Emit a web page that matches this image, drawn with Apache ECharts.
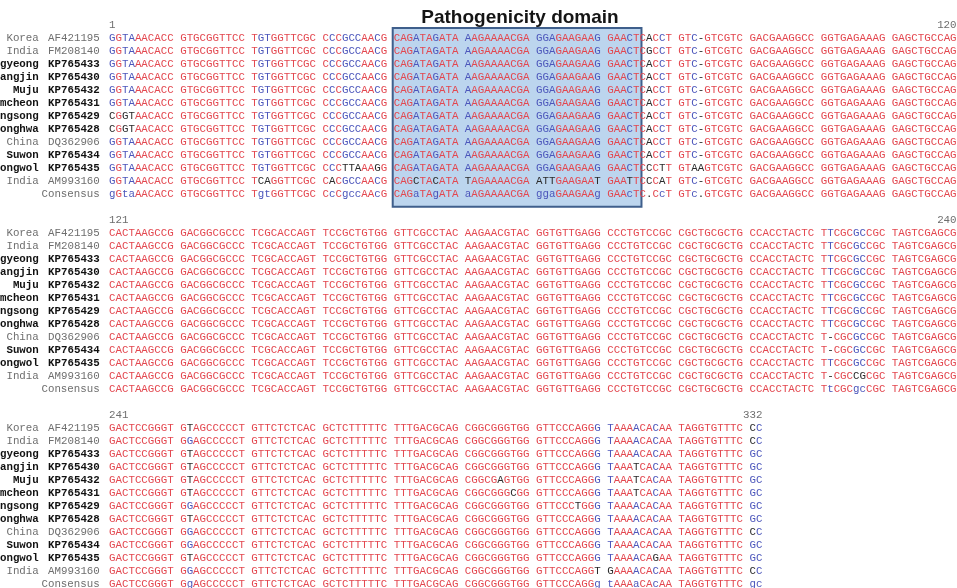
<!DOCTYPE html>
<html><head><meta charset="utf-8">
<script src="https://cdn.jsdelivr.net/npm/echarts@6/dist/echarts.min.js"></script>
<style>html,body{margin:0;padding:0;background:#fff}#c{width:957px;height:588px}</style>
</head><body><div id="c"></div>
<script>
// ---------------- DATA ----------------
const regionNames = ["Korea","India","gyeong","angjin","Muju","mcheon","ngsong","onghwa","China","Suwon","ongwol","India",""];
const accessions  = ["AF421195","FM208140","KP765433","KP765430","KP765432","KP765431","KP765429","KP765428","DQ362906","KP765434","KP765435","AM993160","Consensus"];
const blockStart = [1, 121, 241];
const blockEnd   = [120, 240, 332];
const domainStart = 41, domainEnd = 75;
const domainTitle = "Pathogenicity domain";

const block1 = [
"GGTAAACACC GTGCGGTTCC TGTGGTTCGC CCCGCCAACG CAGATAGATA AAGAAAACGA GGAGAAGAAG GAACTCACCT GTC-GTCGTC GACGAAGGCC GGTGAGAAAG GAGCTGCCAG",
"GGTAAACACC GTGCGGTTCC TGTGGTTCGC CCCGCCAACG CAGATAGATA AAGAAAACGA GGAGAAGAAG GAACTCGCCT GTC-GTCGTC GACGAAGGCC GGTGAGAAAG GAGCTGCCAG",
"GGTAAACACC GTGCGGTTCC TGTGGTTCGC CCCGCCAACG CAGATAGATA AAGAAAACGA GGAGAAGAAG GAACTCACCT GTC-GTCGTC GACGAAGGCC GGTGAGAAAG GAGCTGCCAG",
"GGTAAACACC GTGCGGTTCC TGTGGTTCGC CCCGCCAACG CAGATAGATA AAGAAAACGA GGAGAAGAAG GAACTCACCT GTC-GTCGTC GACGAAGGCC GGTGAGAAAG GAGCTGCCAG",
"GGTAAACACC GTGCGGTTCC TGTGGTTCGC CCCGCCAACG CAGATAGATA AAGAAAACGA GGAGAAGAAG GAACTCACCT GTC-GTCGTC GACGAAGGCC GGTGAGAAAG GAGCTGCCAG",
"GGTAAACACC GTGCGGTTCC TGTGGTTCGC CCCGCCAACG CAGATAGATA AAGAAAACGA GGAGAAGAAG GAACTCACCT GTC-GTCGTC GACGAAGGCC GGTGAGAAAG GAGCTGCCAG",
"CGGTAACACC GTGCGGTTCC TGTGGTTCGC CCCGCCAACG CAGATAGATA AAGAAAACGA GGAGAAGAAG GAACTCACCT GTC-GTCGTC GACGAAGGCC GGTGAGAAAG GAGCTGCCAG",
"CGGTAACACC GTGCGGTTCC TGTGGTTCGC CCCGCCAACG CAGATAGATA AAGAAAACGA GGAGAAGAAG GAACTCACCT GTC-GTCGTC GACGAAGGCC GGTGAGAAAG GAGCTGCCAG",
"GGTAAACACC GTGCGGTTCC TGTGGTTCGC CCCGCCAACG CAGATAGATA AAGAAAACGA GGAGAAGAAG GAACTCACCT GTC-GTCGTC GACGAAGGCC GGTGAGAAAG GAGCTGCCAG",
"GGTAAACACC GTGCGGTTCC TGTGGTTCGC CCCGCCAACG CAGATAGATA AAGAAAACGA GGAGAAGAAG GAACTCACCT GTC-GTCGTC GACGAAGGCC GGTGAGAAAG GAGCTGCCAG",
"GGTAAACACC GTGCGGTTCC TGTGGTTCGC CCCTTAAAGG CAGATAGATA AAGAAAACGA GGAGAAGAAG GAACTCCCTT GTAAGTCGTC GACGAAGGCC GGTGAGAAAG GAGCTGCCAG",
"GGTAAACACC GTGCGGTTCC TCAGGTTCGC CACGCCAACG CAGCTACATA TAGAAAACGA ATTGAAGAAT GAATTCCCAT GTC-GTCGTC GACGAAGGCC GGTGAGAAAG GAGCTGCCAG",
"gGtaAACACC GTGCGGTTCC TgtGGTTCGC CcCgccAAcG CAGaTAgATA aAGAAAACGA ggaGAAGAAg GAAcTC.CcT GTc.GTCGTC GACGAAGGCC GGTGAGAAAG GAGCTGCCAG"
];
const block2 = [
"CACTAAGCCG GACGGCGCCC TCGCACCAGT TCCGCTGTGG GTTCGCCTAC AAGAACGTAC GGTGTTGAGG CCCTGTCCGC CGCTGCGCTG CCACCTACTC TTCGCGCCGC TAGTCGAGCG",
"CACTAAGCCG GACGGCGCCC TCGCACCAGT TCCGCTGTGG GTTCGCCTAC AAGAACGTAC GGTGTTGAGG CCCTGTCCGC CGCTGCGCTG CCACCTACTC TTCGCGCCGC TAGTCGAGCG",
"CACTAAGCCG GACGGCGCCC TCGCACCAGT TCCGCTGTGG GTTCGCCTAC AAGAACGTAC GGTGTTGAGG CCCTGTCCGC CGCTGCGCTG CCACCTACTC TTCGCGCCGC TAGTCGAGCG",
"CACTAAGCCG GACGGCGCCC TCGCACCAGT TCCGCTGTGG GTTCGCCTAC AAGAACGTAC GGTGTTGAGG CCCTGTCCGC CGCTGCGCTG CCACCTACTC TTCGCGCCGC TAGTCGAGCG",
"CACTAAGCCG GACGGCGCCC TCGCACCAGT TCCGCTGTGG GTTCGCCTAC AAGAACGTAC GGTGTTGAGG CCCTGTCCGC CGCTGCGCTG CCACCTACTC TTCGCGCCGC TAGTCGAGCG",
"CACTAAGCCG GACGGCGCCC TCGCACCAGT TCCGCTGTGG GTTCGCCTAC AAGAACGTAC GGTGTTGAGG CCCTGTCCGC CGCTGCGCTG CCACCTACTC TTCGCGCCGC TAGTCGAGCG",
"CACTAAGCCG GACGGCGCCC TCGCACCAGT TCCGCTGTGG GTTCGCCTAC AAGAACGTAC GGTGTTGAGG CCCTGTCCGC CGCTGCGCTG CCACCTACTC TTCGCGCCGC TAGTCGAGCG",
"CACTAAGCCG GACGGCGCCC TCGCACCAGT TCCGCTGTGG GTTCGCCTAC AAGAACGTAC GGTGTTGAGG CCCTGTCCGC CGCTGCGCTG CCACCTACTC TTCGCGCCGC TAGTCGAGCG",
"CACTAAGCCG GACGGCGCCC TCGCACCAGT TCCGCTGTGG GTTCGCCTAC AAGAACGTAC GGTGTTGAGG CCCTGTCCGC CGCTGCGCTG CCACCTACTC T-CGCGCCGC TAGTCGAGCG",
"CACTAAGCCG GACGGCGCCC TCGCACCAGT TCCGCTGTGG GTTCGCCTAC AAGAACGTAC GGTGTTGAGG CCCTGTCCGC CGCTGCGCTG CCACCTACTC T-CGCGCCGC TAGTCGAGCG",
"CACTAAGCCG GACGGCGCCC TCGCACCAGT TCCGCTGTGG GTTCGCCTAC AAGAACGTAC GGTGTTGAGG CCCTGTCCGC CGCTGCGCTG CCACCTACTC TTCGCGCCGC TAGTCGAGCG",
"CACTAAGCCG GACGGCGCCC TCGCACCAGT TCCGCTGTGG GTTCGCCTAC AAGAACGTAC GGTGTTGAGG CCCTGTCCGC CGCTGCGCTG CCACCTACTC T-CGCCGCGC TAGTCGAGCG",
"CACTAAGCCG GACGGCGCCC TCGCACCAGT TCCGCTGTGG GTTCGCCTAC AAGAACGTAC GGTGTTGAGG CCCTGTCCGC CGCTGCGCTG CCACCTACTC TtCGCgcCGC TAGTCGAGCG"
];
const block3 = [
"GACTCCGGGT GTAGCCCCCT GTTCTCTCAC GCTCTTTTTC TTTGACGCAG CGGCGGGTGG GTTCCCAGGG TAAAACACAA TAGGTGTTTC CC",
"GACTCCGGGT GGAGCCCCCT GTTCTCTCAC GCTCTTTTTC TTTGACGCAG CGGCGGGTGG GTTCCCAGGG TAAAACACAA TAGGTGTTTC CC",
"GACTCCGGGT GTAGCCCCCT GTTCTCTCAC GCTCTTTTTC TTTGACGCAG CGGCGGGTGG GTTCCCAGGG TAAAACACAA TAGGTGTTTC GC",
"GACTCCGGGT GTAGCCCCCT GTTCTCTCAC GCTCTTTTTC TTTGACGCAG CGGCGGGTGG GTTCCCAGGG TAAATCACAA TAGGTGTTTC GC",
"GACTCCGGGT GTAGCCCCCT GTTCTCTCAC GCTCTTTTTC TTTGACGCAG CGGCGAGTGG GTTCCCAGGG TAAATCACAA TAGGTGTTTC GC",
"GACTCCGGGT GTAGCCCCCT GTTCTCTCAC GCTCTTTTTC TTTGACGCAG CGGCGGGCGG GTTCCCAGGG TAAATCACAA TAGGTGTTTC GC",
"GACTCCGGGT GGAGCCCCCT GTTCTCTCAC GCTCTTTTTC TTTGACGCAG CGGCGGGTGG GTTCCCTGGG TAAAACACAA TAGGTGTTTC GC",
"GACTCCGGGT GTAGCCCCCT GTTCTCTCAC GCTCTTTTTC TTTGACGCAG CGGCGGGTGG GTTCCCAGGG TAAAACACAA TAGGTGTTTC GC",
"GACTCCGGGT GGAGCCCCCT GTTCTCTCAC GCTCTTTTTC TTTGACGCAG CGGCGGGTGG GTTCCCAGGG TAAAACACAA TAGGTGTTTC CC",
"GACTCCGGGT GGAGCCCCCT GTTCTCTCAC GCTCTTTTTC TTTGACGCAG CGGCGGGTGG GTTCCCAGGG TAAAACACAA TAGGTGTTTC GC",
"GACTCCGGGT GTAGCCCCCT GTTCTCTCAC GCTCTTTTTC TTTGACGCAG CGGCGGGTGG GTTCCCAGGG TAAAACAGAA TAGGTGTTTC GC",
"GACTCCGGGT GGAGCCCCCT GTTCTCTCAC GCTCTTTTTC TTTGACGCAG CGGCGGGTGG GTTCCCAGGT GAAAACACAA TAGGTGTTTC CC",
"GACTCCGGGT GgAGCCCCCT GTTCTCTCAC GCTCTTTTTC TTTGACGCAG CGGCGGGTGG GTTCCCAGGg tAAAaCAcAA TAGGTGTTTC gc"
];
const blocks = [block1, block2, block3];

// ---------------- LAYOUT / STYLE ----------------
const CW = 6.47, X0 = 109;          // char cell width, left of first cell (px)
const LH = 13.0, Y0 = 25.3;         // line height, y of first number line (px)
const W = 957, H = 588;
const RED = '#e3474f', BLUE = '#4c56bb', DARK = '#2a2a2a', GRAY = '#6e6e6e';
const MONO = '"Liberation Mono", "Courier New", monospace';
const FS = 10.8;

const seqPts = [], seqMeta = [];
const lblPts = [], lblMeta = [];
const isUp = c => /[A-Z]/.test(c), isLow = c => /[a-z]/.test(c);

blocks.forEach((blk, b) => {
  const rows = blk.map(s => s.replace(/ /g, ''));
  const cons = rows[rows.length - 1];
  const base = 15 * b;
  rows.forEach((s, r) => {
    const isCons = r === rows.length - 1;
    const line = base + 1 + r;
    for (let i = 0; i < s.length; i++) {
      const ch = s[i], cc = cons[i];
      let col;
      if (isCons) col = isUp(cc) ? RED : (isLow(cc) ? BLUE : DARK);
      else if (isUp(cc) && ch === cc) col = RED;
      else if (isLow(cc) && ch.toUpperCase() === cc.toUpperCase()) col = BLUE;
      else col = DARK;
      const c = i + Math.floor(i / 10);
      seqPts.push([c + 0.5, line]);
      seqMeta.push({ t: ch, c: col });
    }
    const acc = accessions[r];
    const bold = acc.startsWith('KP');
    if (regionNames[r]) {
      lblPts.push([-10.85, line]);
      lblMeta.push({ t: regionNames[r], c: bold ? '#111' : GRAY, a: 'right', w: bold ? 'bold' : 'normal' });
    }
    if (isCons) {
      lblPts.push([-1.43, line]);
      lblMeta.push({ t: acc, c: GRAY, a: 'right', w: 'normal' });
    } else {
      lblPts.push([-9.43, line]);
      lblMeta.push({ t: acc, c: bold ? '#111' : GRAY, a: 'left', w: bold ? 'bold' : 'normal' });
    }
  });
  const n = blockEnd[b] - blockStart[b] + 1;
  const lastCol = (n - 1) + Math.floor((n - 1) / 10);
  lblPts.push([0, base]);
  lblMeta.push({ t: String(blockStart[b]), c: GRAY, a: 'left', w: 'normal' });
  lblPts.push([lastCol + 1, base]);
  lblMeta.push({ t: String(blockEnd[b]), c: GRAY, a: 'right', w: 'normal' });
});

const dcol = p => (p - 1) + Math.floor((p - 1) / 10);
const boxData = [[dcol(domainStart) - 0.15, 0.2, dcol(domainEnd) + 1.3, 13.95]];

const chart = echarts.init(document.getElementById('c'), null, { renderer: 'canvas' });
chart.setOption({
  animation: false,
  backgroundColor: '#fff',
  title: {
    text: domainTitle, left: 515, top: 3, textAlign: 'center',
    textStyle: { fontFamily: '"Liberation Sans", Arial, sans-serif', fontSize: 19, fontWeight: 'bold', color: '#151515' }
  },
  grid: { left: 0, right: 0, top: 0, bottom: 0 },
  xAxis: { type: 'value', min: -X0 / CW, max: (W - X0) / CW, show: false },
  yAxis: { type: 'value', inverse: true, min: -Y0 / LH, max: (H - Y0) / LH, show: false },
  series: [
    {
      type: 'custom', silent: true, z: 1, data: boxData,
      encode: { x: [0, 2], y: [1, 3] },
      renderItem: (params, api) => {
        const p1 = api.coord([api.value(0), api.value(1)]);
        const p2 = api.coord([api.value(2), api.value(3)]);
        return { type: 'rect', shape: { x: p1[0], y: p1[1], width: p2[0] - p1[0], height: p2[1] - p1[1] },
          style: { fill: '#bcd5ee', stroke: '#3f5f8c', lineWidth: 2 } };
      }
    },
    {
      type: 'custom', silent: true, z: 2, data: seqPts,
      renderItem: (params, api) => {
        const m = seqMeta[params.dataIndex];
        const p = api.coord([api.value(0), api.value(1)]);
        return { type: 'text', x: p[0], y: p[1],
          style: { text: m.t, fill: m.c, font: FS + 'px ' + MONO, align: 'center', verticalAlign: 'middle' } };
      }
    },
    {
      type: 'custom', silent: true, z: 2, data: lblPts,
      renderItem: (params, api) => {
        const m = lblMeta[params.dataIndex];
        const p = api.coord([api.value(0), api.value(1)]);
        return { type: 'text', x: p[0], y: p[1],
          style: { text: m.t, fill: m.c, font: m.w + ' ' + FS + 'px ' + MONO, align: m.a, verticalAlign: 'middle' } };
      }
    }
  ]
});
</script></body></html>
